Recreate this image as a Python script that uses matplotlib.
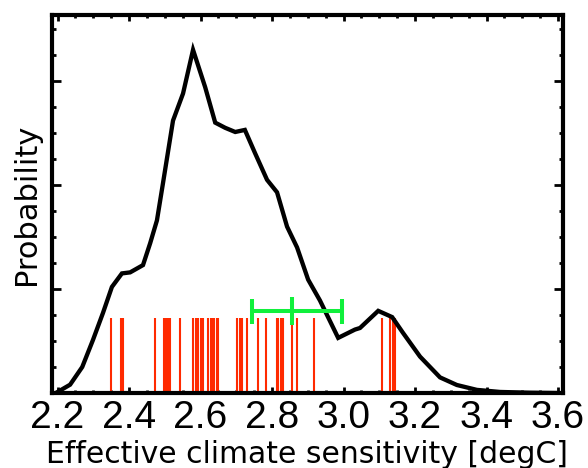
import matplotlib
matplotlib.use("Agg")
import matplotlib.pyplot as plt
from matplotlib.ticker import MultipleLocator, FixedLocator

# PDF curve of effective climate sensitivity
pdf_x = [2.200, 2.235, 2.269, 2.299, 2.327, 2.352, 2.380, 2.403, 2.439, 2.459,
         2.478, 2.495, 2.523, 2.551, 2.579, 2.613, 2.641, 2.669, 2.697, 2.724,
         2.752, 2.786, 2.814, 2.842, 2.870, 2.901, 2.934, 2.985, 3.032, 3.046,
         3.097, 3.136, 3.166, 3.214, 3.270, 3.317, 3.373, 3.438, 3.520, 3.600]
pdf_y = [0.01, 0.08, 0.25, 0.51, 0.77, 1.02, 1.15, 1.16, 1.23, 1.44,
         1.66, 2.02, 2.62, 2.88, 3.30, 2.94, 2.60, 2.55, 2.51, 2.53,
         2.31, 2.05, 1.93, 1.60, 1.40, 1.09, 0.89, 0.53, 0.61, 0.625,
         0.79, 0.73, 0.58, 0.35, 0.15, 0.077, 0.03, 0.01, 0.003, 0.0]

# individual model values (red rug lines)
model_ecs = [2.350, 2.378, 2.383, 2.473, 2.497, 2.504, 2.509, 2.515, 2.543,
             2.580, 2.586, 2.594, 2.601, 2.608, 2.621, 2.628, 2.634, 2.639,
             2.645, 2.650, 2.703, 2.709, 2.716, 2.730, 2.762, 2.783, 2.813,
             2.818, 2.824, 2.831, 2.855, 2.869, 2.918, 3.107, 3.130, 3.137,
             3.144]
rug_height = 0.72

# observational estimate (green bar)
obs_mean = 2.855
obs_err_low = 0.112
obs_err_high = 0.140
obs_level = 0.79

xticks = [2.2, 2.4, 2.6, 2.8, 3.0, 3.2, 3.4, 3.6]
xticklabels = ["2.2", "2.4", "2.6", "2.8", "3.0", "3.2", "3.4", "3.6"]

fig = plt.figure(figsize=(5.88, 4.68), dpi=100)
ax = fig.add_axes([51.5/588, 1-393/468, (563-51.5)/588, (393-15)/468])

ax.vlines(model_ecs, 0, rug_height, colors="#ff2a00", linewidth=1.5, zorder=2)
ax.plot(pdf_x, pdf_y, color="black", linewidth=3.1, solid_joinstyle="miter", zorder=3)
ax.errorbar([obs_mean], [obs_level], xerr=[[obs_err_low], [obs_err_high]],
            color="#10f03c", linewidth=2.9, capsize=9, capthick=2.9, zorder=4)
ax.plot([obs_mean], [obs_level], marker="|", markersize=20,
        markeredgewidth=2.9, color="#10f03c", zorder=4)

ax.set_xlim(2.183, 3.614)
ax.set_ylim(0, 3.635)

ax.xaxis.set_major_locator(FixedLocator(xticks))
ax.set_xticklabels(xticklabels, fontfamily="Liberation Sans", fontsize=28)
ax.xaxis.set_minor_locator(MultipleLocator(0.05))
ax.yaxis.set_major_locator(MultipleLocator(1))
ax.yaxis.set_minor_locator(MultipleLocator(0.25))
ax.set_yticklabels([])

ax.tick_params(axis="x", which="major", direction="in", length=4.5, width=2,
               top=True, bottom=True, pad=5)
ax.tick_params(axis="x", which="minor", direction="in", length=2.3, width=2,
               top=True, bottom=True)
ax.tick_params(axis="y", which="major", direction="in", length=6.5, width=2,
               left=True, right=True, labelleft=False)
ax.tick_params(axis="y", which="minor", direction="in", length=3, width=2,
               left=True, right=True)

for sp in ax.spines.values():
    sp.set_linewidth(3)

ax.set_xlabel("Effective climate sensitivity [degC]", fontsize=21.5,
              fontfamily="DejaVu Sans", labelpad=3)
ax.set_ylabel("Probability", fontsize=22, fontfamily="DejaVu Sans", labelpad=4)

fig.savefig("out.png", dpi=100)
